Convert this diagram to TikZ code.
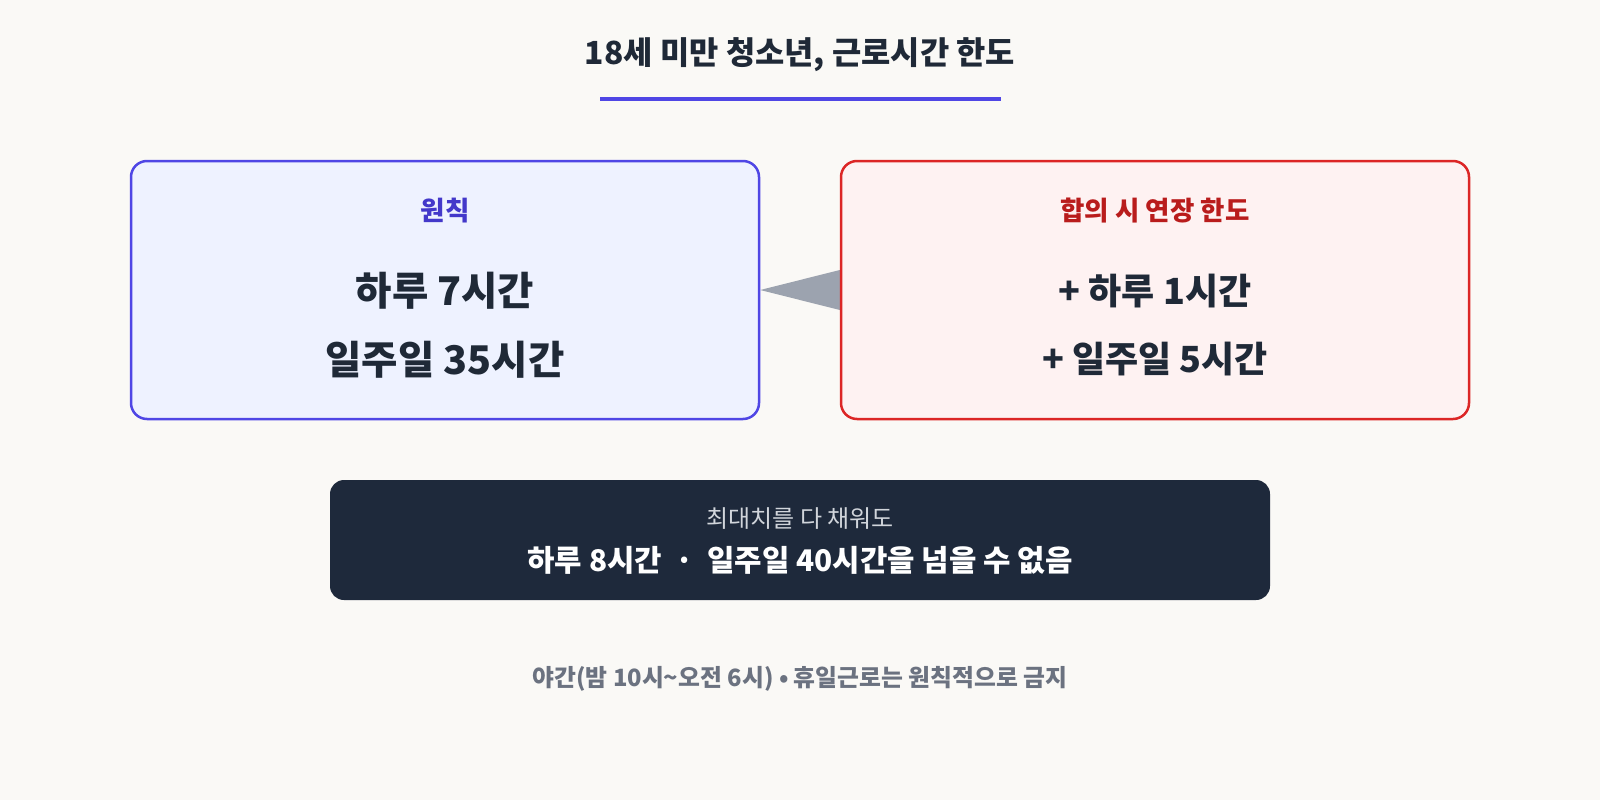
\documentclass[tikz,border=0pt]{standalone}
\usepackage{fontspec}
\setmainfont{Noto Sans CJK KR}
\usetikzlibrary{positioning}
\definecolor{bgc}{HTML}{FAF9F6}
\definecolor{indigoline}{HTML}{4F46E5}
\definecolor{indigofill}{HTML}{EEF2FF}
\definecolor{indigotext}{HTML}{4338CA}
\definecolor{redline}{HTML}{DC2626}
\definecolor{redfill}{HTML}{FEF2F2}
\definecolor{redtext}{HTML}{B91C1C}
\definecolor{darkbox}{HTML}{1E293B}
\definecolor{darktext}{HTML}{1F2937}
\definecolor{graytri}{HTML}{9CA3AF}
\definecolor{graytext}{HTML}{6B7280}
\definecolor{softtext}{HTML}{D1D5DB}
\pgfdeclarelayer{bg}
\pgfsetlayers{bg,main}
\tikzset{
  panel/.style={rounded corners=16pt, line width=2.5pt, minimum width=628pt, minimum height=258pt, inner sep=0pt},
  bluepanel/.style={panel, draw=indigoline, fill=indigofill},
  redpanel/.style={panel, draw=redline, fill=redfill},
  headtxt/.style={font=\fontsize{26.5}{30}\selectfont\bfseries, inner sep=0pt},
  bigtxt/.style={font=\fontsize{39.5}{45}\selectfont\bfseries, text=darktext, inner sep=0pt},
  redbigtxt/.style={font=\fontsize{36}{41}\selectfont\bfseries, text=darktext, inner sep=0pt},
  notebox/.style={rounded corners=14pt, fill=darkbox, minimum width=940pt, minimum height=120pt, inner sep=0pt},
}
\begin{document}
\begin{tikzpicture}[x=1pt,y=-1pt]
\begin{pgfonlayer}{bg}
\fill[bgc] (0,0) rectangle (1600,800);
\end{pgfonlayer}
\useasboundingbox (0,0) rectangle (1600,800);
% title
\node[font=\fontsize{31.8}{36}\selectfont\bfseries, text=darktext, inner sep=0pt] (title) at (800,55) {18세 미만 청소년, 근로시간 한도};
\coordinate (ulA) at (600,99);
\coordinate (ulB) at (1001,99);
\draw[indigoline, line width=4pt] (ulA) -- (ulB);
% panels
\node[bluepanel] (blue) at (445,290) {};
\node[redpanel] (red) at (1155,290) {};
\node[headtxt, text=indigotext] (bluehead) at (445,211) {원칙};
\node[bigtxt] (blue1) at (445,291) {하루 7시간};
\node[bigtxt] (blue2) at (445,360) {일주일 35시간};
\node[headtxt, text=redtext] (redhead) at (1155,211) {합의 시 연장 한도};
\node[redbigtxt] (red1) at (1155,291) {+ 하루 1시간};
\node[redbigtxt] (red2) at (1155,359) {+ 일주일 5시간};
% connector triangle
\begin{pgfonlayer}{bg}
\fill[graytri] (blue.east) -- ([yshift=-20pt]red.west) -- ([yshift=20pt]red.west) -- cycle;
\end{pgfonlayer}
% note box
\node[notebox] (note) at (800,540) {};
\node[font=\fontsize{24}{28}\selectfont, text=softtext, inner sep=0pt] (note1) at (800,519) {최대치를 다 채워도};
\node[font=\fontsize{29.8}{34}\selectfont\bfseries, text=white, inner sep=0pt] (note2) at (800,560) {하루 8시간 \ · \ 일주일 40시간을 넘을 수 없음};
% footer
\node[font=\fontsize{23.8}{28}\selectfont\bfseries, text=graytext, inner sep=0pt] (foot) at (800,679) {야간(밤 10시\char"007E 오전 6시) • 휴일근로는 원칙적으로 금지};
\end{tikzpicture}
\end{document}
